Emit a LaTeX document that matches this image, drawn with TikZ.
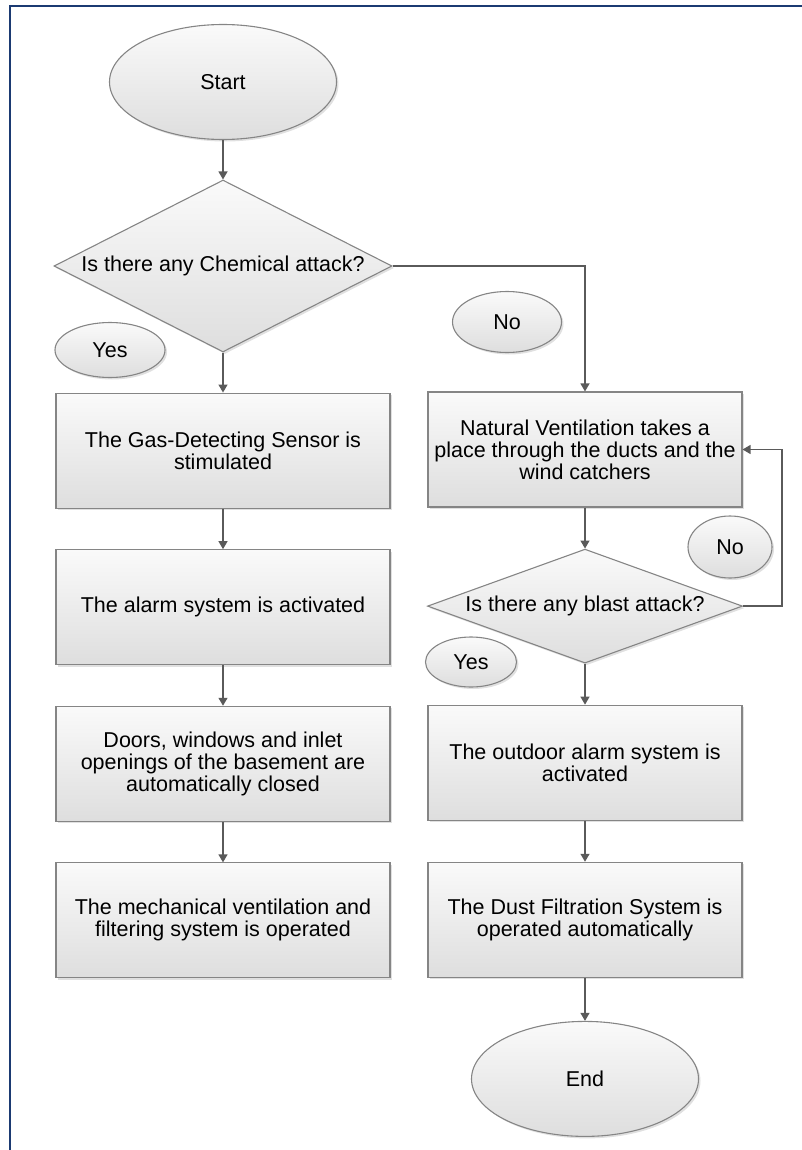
\documentclass[tikz,border=0pt]{standalone}
\usepackage{fontspec}
\setmainfont{Liberation Sans}
\usetikzlibrary{positioning,shapes.geometric,arrows.meta,shadows}
\definecolor{framenavy}{HTML}{1B3A72}
\definecolor{edgegray}{HTML}{858585}
\definecolor{flowgray}{HTML}{5A5A5A}
\tikzset{
  base/.style={draw=edgegray, line width=1.1pt, top color=white!98!black, bottom color=white!87!black,
    font=\fontsize{21.5}{22}\selectfont, align=center,
    drop shadow={shadow xshift=2pt, shadow yshift=-2pt, fill=black!30, opacity=0.4}},
  procbox/.style={base, rectangle, minimum height=115pt, inner sep=0pt},
  decision/.style={base, diamond, inner sep=0pt},
  terminal/.style={base, ellipse, minimum width=227pt, minimum height=115pt, inner sep=0pt},
  tag/.style={base, ellipse, inner sep=0pt},
  flow/.style={draw=flowgray, line width=1.3pt, -{Triangle[width=9pt,length=8pt]}},
}
\begin{document}
\begin{tikzpicture}[x=1pt, y=-1pt]
\useasboundingbox (0,0) rectangle (802,1150);
\draw[framenavy, line width=2.8pt] (10,1150) -- (10,6) -- (802,6);

\node[terminal] (start) at (223,82) {Start};
\node[decision, minimum width=338pt, minimum height=172pt, aspect=2] (chem) at (223,266) {Is there any Chemical attack?};

% left column
\node[procbox, minimum width=334pt, below=40pt of chem] (gas) {The Gas-Detecting Sensor is\\stimulated};
\node[procbox, minimum width=334pt, below=40.5pt of gas] (alarm) {The alarm system is activated};
\node[procbox, minimum width=334pt, below=40.5pt of alarm] (doors) {Doors, windows and inlet\\openings of the basement are\\automatically closed};
\node[procbox, minimum width=334pt, below=40.5pt of doors] (mech) {The mechanical ventilation and\\filtering system is operated};

% right column
\node[procbox, minimum width=314pt] (natvent) at (585,449.5) {Natural Ventilation takes a\\place through the ducts and the\\wind catchers};
\node[decision, minimum width=315pt, minimum height=114pt, aspect=3] (blast) [below=41pt of natvent] {Is there any blast attack?};
\node[procbox, minimum width=314pt, below=41pt of blast] (outdoor) {The outdoor alarm system is\\activated};
\node[procbox, minimum width=314pt, below=41pt of outdoor] (dust) {The Dust Filtration System is\\operated automatically};
\node[terminal, below=43pt of dust] (end) {End};

% answer tags
\node[tag, minimum width=110pt, minimum height=55pt] (yesA) at (110,350) {Yes};
\node[tag, minimum width=109pt, minimum height=61pt] (noA) at (507,322) {No};
\node[tag, minimum width=84pt, minimum height=62pt] (noB) at (730,547) {No};
\node[tag, minimum width=91pt, minimum height=50pt] (yesB) at (471,662) {Yes};

\draw[flow] (start) -- (chem);
\draw[flow] (chem) -- (gas);
\draw[flow] (gas) -- (alarm);
\draw[flow] (alarm) -- (doors);
\draw[flow] (doors) -- (mech);
\draw[flow] (chem.east) -| (natvent.north);
\draw[flow] (natvent) -- (blast);
\draw[flow] (blast.east) -- ++(39,0) |- (natvent.east);
\draw[flow] (blast) -- (outdoor);
\draw[flow] (outdoor) -- (dust);
\draw[flow] (dust) -- (end);
\end{tikzpicture}
\end{document}
